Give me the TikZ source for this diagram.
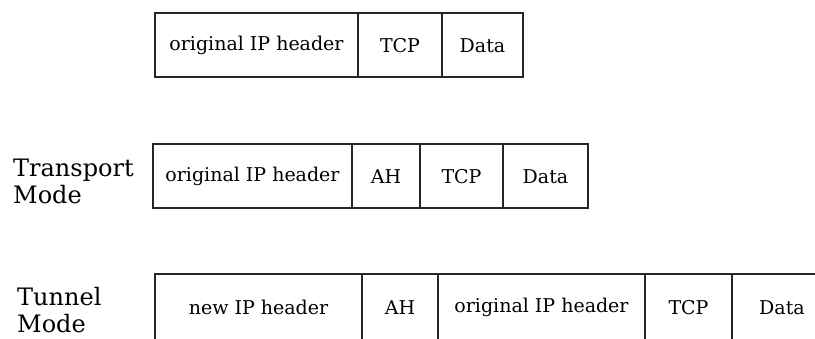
\documentclass[tikz,border=0pt]{standalone}
\usepackage{fontspec}
\setmainfont{DejaVu Serif}
\usetikzlibrary{positioning}

\begin{document}
\begin{tikzpicture}[
    x=1pt, y=1pt,
    node distance=0pt,
    every node/.style={font=\fontsize{19}{21}\selectfont},
    pkt_cell/.style={
        rectangle,
        draw=black!85,
        line width=2pt,
        outer sep=0pt,
        inner sep=2pt,
        minimum height=64pt,
        align=center
    },
    tunnel_cell/.style={
        pkt_cell,
        minimum height=67pt
    },
    mode_label/.style={
        align=left,
        inner sep=0pt,
        anchor=north west,
        font=\fontsize{24}{26.5}\selectfont
    }
]
\clip (0,0) rectangle (815,339);

% original packet
\node[pkt_cell, minimum width=203pt, anchor=north west] (o_ip) at (155,325.5) {original IP header};
\node[pkt_cell, minimum width=84pt, right=of o_ip] (o_tcp) {TCP};
\node[pkt_cell, minimum width=81pt, right=of o_tcp] (o_data) {Data};

% transport mode
\node[mode_label] (tr_label) at (13,180) {Transport\\Mode};
\node[pkt_cell, minimum width=199pt, anchor=north west] (tr_ip) at (153,194.5) {original IP header};
\node[pkt_cell, minimum width=68pt, right=of tr_ip] (tr_ah) {AH};
\node[pkt_cell, minimum width=83pt, right=of tr_ah] (tr_tcp) {TCP};
\node[pkt_cell, minimum width=85pt, right=of tr_tcp] (tr_data) {Data};

% tunnel mode
\node[mode_label] (tu_label) at (17,51.5) {Tunnel\\Mode};
\node[tunnel_cell, minimum width=207pt, anchor=north west] (tu_newip) at (155,65) {new IP header};
\node[tunnel_cell, minimum width=76pt, right=of tu_newip] (tu_ah) {AH};
\node[tunnel_cell, minimum width=207pt, right=of tu_ah] (tu_ip) {original IP header};
\node[tunnel_cell, minimum width=87pt, right=of tu_ip] (tu_tcp) {TCP};
\node[tunnel_cell, minimum width=100pt, right=of tu_tcp] (tu_data) {Data};

\end{tikzpicture}
\end{document}
